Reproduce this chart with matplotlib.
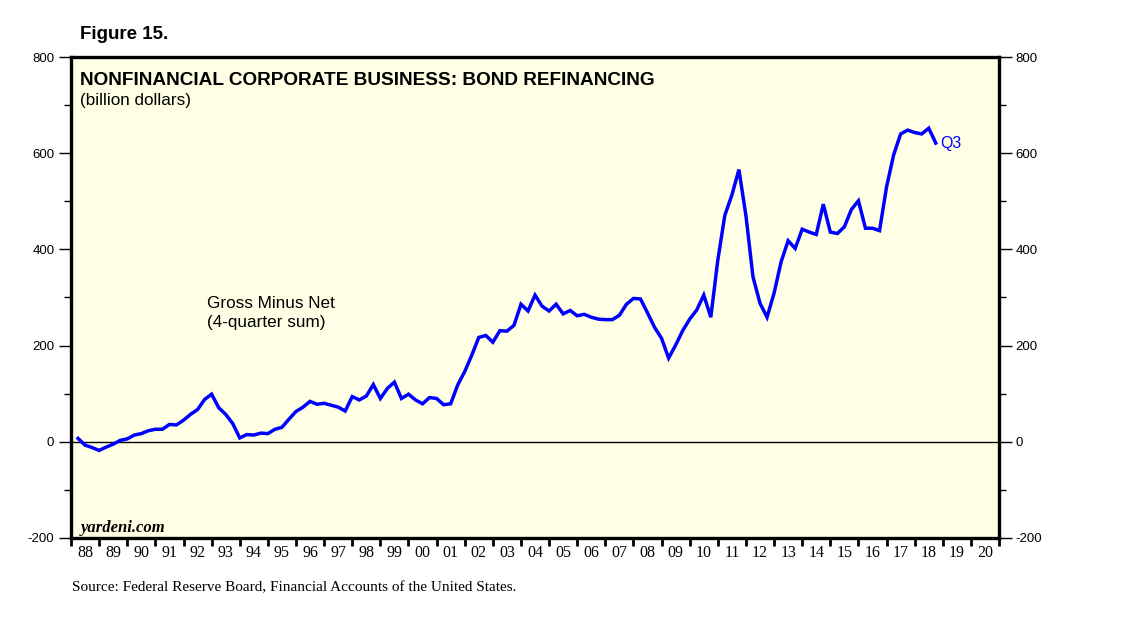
import matplotlib.pyplot as plt
import numpy as np

# Nonfinancial corporate business: bond refinancing, gross minus net (4-quarter sum)
# quarterly, 1988Q1 .. 2018Q3, billion dollars
refi = [
    7, -7, -12, -18,            # 1988
    -11, -5, 3, 6,              # 1989
    14, 17, 23, 26,             # 1990
    26, 36, 35, 45,             # 1991
    57, 67, 88, 99,             # 1992
    71, 57, 38, 8,              # 1993
    15, 14, 18, 17,             # 1994
    26, 30, 47, 63,             # 1995
    72, 84, 78, 80,             # 1996
    76, 72, 64, 94,             # 1997
    87, 95, 119, 90,            # 1998
    111, 124, 90, 99,           # 1999
    87, 79, 92, 90,             # 2000
    77, 79, 118, 146,           # 2001
    180, 217, 221, 207,         # 2002
    231, 230, 242, 286,         # 2003
    272, 305, 282, 272,         # 2004
    286, 266, 273, 262,         # 2005
    265, 259, 255, 254,         # 2006
    254, 263, 286, 298,         # 2007
    297, 268, 238, 215,         # 2008
    174, 201, 231, 255,         # 2009
    274, 305, 259, 378,         # 2010
    471, 513, 566, 470,         # 2011
    343, 288, 259, 309,         # 2012
    374, 418, 402, 442,         # 2013
    436, 431, 494, 436,         # 2014
    433, 447, 483, 501,         # 2015
    444, 444, 439, 530,         # 2016
    596, 640, 648, 643,         # 2017
    640, 652, 621,              # 2018
]
first_year = 1988
years = list(range(1988, 2021))
year_labels = ["%02d" % (y % 100) for y in years]
yticks = [-200, 0, 200, 400, 600, 800]

t = first_year + 0.25 * (np.arange(len(refi)) + 1)

sans = "Liberation Sans"
serif = "Liberation Serif"

fig = plt.figure(figsize=(11.38, 6.21), dpi=100)
ax = fig.add_axes([0.0624, 0.1337, 0.8155, 0.7745])
ax.set_facecolor("#ffffe5")

ax.axhline(0, color="black", lw=1.0, zorder=1)
ax.plot(t, refi, color="#0000ff", lw=2.5, solid_joinstyle="miter", zorder=3)

ax.set_xlim(1988, 2021)
ax.set_ylim(-200, 800)

for s in ax.spines.values():
    s.set_linewidth(2.4)

# x axis: ticks at year boundaries, labels centred in each year
ax.set_xticks(years + [2021])
ax.set_xticklabels([])
ax.set_xticks([y + 0.5 for y in years], minor=True)
ax.set_xticklabels(year_labels, minor=True, fontfamily=serif, fontsize=11.5)
ax.tick_params(axis="x", which="major", direction="out", length=6, width=2)
ax.tick_params(axis="x", which="minor", length=0, pad=5)

# y axis both sides
ax.set_yticks(yticks)
ax.set_yticklabels([str(v) for v in yticks], fontfamily=sans, fontsize=9.5)
ax.set_yticks(range(-100, 800, 200), minor=True)
ax.tick_params(axis="y", which="both", direction="out", left=True, right=True,
               labelleft=True, labelright=True, pad=3)
ax.tick_params(axis="y", which="major", length=9, width=1)
ax.tick_params(axis="y", which="minor", length=5, width=1)

# texts
fig.text(0.0703, 0.938, "Figure 15.", fontfamily=sans, fontweight="bold",
         fontsize=13.5, va="baseline")
ax.text(0.010, 0.968, "NONFINANCIAL CORPORATE BUSINESS: BOND REFINANCING",
        transform=ax.transAxes, fontfamily=sans, fontweight="bold",
        fontsize=13.7, va="top")
ax.text(0.010, 0.925, "(billion dollars)", transform=ax.transAxes,
        fontfamily=sans, fontsize=12.3, va="top")
ax.text(1992.82, 303, "Gross Minus Net\n(4-quarter sum)", fontfamily=sans,
        fontsize=12.3, va="top", linespacing=1.3)
ax.annotate("Q3", (t[-1], refi[-1]), xytext=(3, 0), textcoords="offset points",
            color="#0000ff", fontfamily=sans, fontsize=11.5, va="center")
ax.text(0.010, 0.004, "yardeni.com", transform=ax.transAxes,
        fontfamily=serif, fontweight="bold", fontstyle="italic",
        fontsize=12, va="bottom")
fig.text(0.0633, 0.048, "Source: Federal Reserve Board, Financial Accounts of the United States.",
         fontfamily=serif, fontsize=11, va="baseline")

fig.savefig("out.png", dpi=100)
